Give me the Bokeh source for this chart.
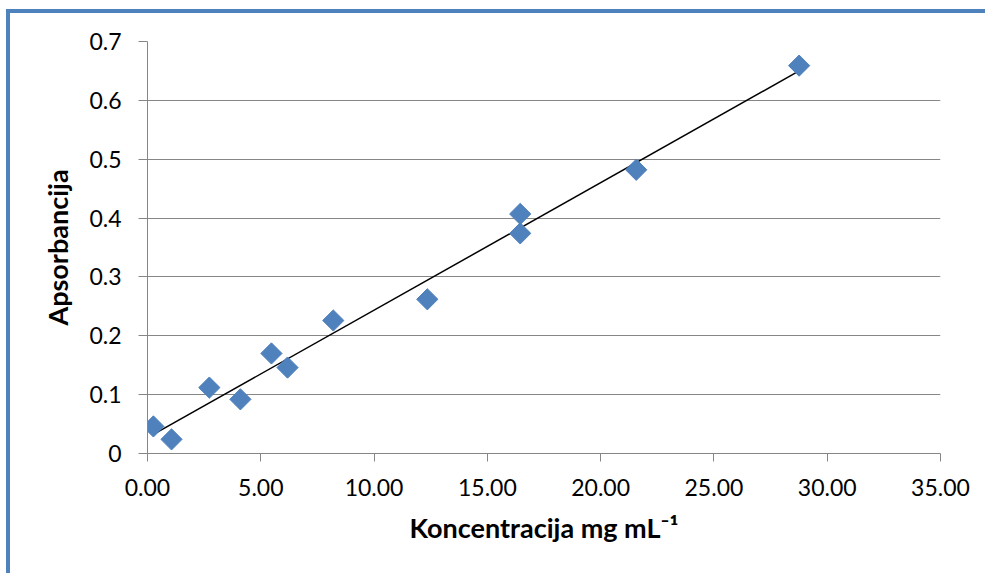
import numpy as np
from bokeh.plotting import figure
from bokeh.layouts import column, row
from bokeh.models import Range1d, FixedTicker, CustomJSTickFormatter, PrintfTickFormatter, ColumnDataSource, Div
from bokeh.embed import file_html
from bokeh.resources import INLINE

# Data
konc = [0.26, 1.06, 2.73, 4.10, 5.47, 6.18, 8.20, 12.35, 16.45, 16.45, 21.57, 28.76]
aps = [0.046, 0.024, 0.112, 0.092, 0.170, 0.146, 0.226, 0.262, 0.407, 0.374, 0.482, 0.659]
x_ticks = [0, 5, 10, 15, 20, 25, 30, 35]
y_ticks = [0, 0.1, 0.2, 0.3, 0.4, 0.5, 0.6, 0.7]
x_title = "Koncentracija mg mL\u207b\u00b9"
y_title = "Apsorbancija"

FONT = "Lato"
GRAY = "#868686"
BLUE = "#4F81BD"

p = figure(
    frame_width=793, frame_height=412,
    min_border_left=137, min_border_top=28, min_border_right=45, min_border_bottom=120,
    x_range=Range1d(0, 35), y_range=Range1d(0, 0.7),
    output_backend="svg", toolbar_location=None,
)
p.outline_line_color = None
p.background_fill_color = "white"
p.border_fill_color = "white"

# linear trendline fitted from the data
slope, intercept = np.polyfit(konc, aps, 1)
tx = [min(konc), max(konc)]
ty = [slope * v + intercept for v in tx]
p.line(tx, ty, line_color="black", line_width=1.5)

src = ColumnDataSource(dict(x=konc, y=aps))
p.scatter("x", "y", source=src, marker="square", angle=np.pi / 4, size=15,
          fill_color=BLUE, line_color=BLUE)

p.xgrid.visible = False
p.ygrid.grid_line_color = GRAY
p.ygrid.grid_line_width = 1
p.ygrid.ticker = FixedTicker(ticks=y_ticks)

for ax in (p.xaxis[0], p.yaxis[0]):
    ax.axis_line_color = GRAY
    ax.major_tick_line_color = GRAY
    ax.minor_tick_line_color = None
    ax.major_tick_in = 0
    ax.major_label_text_font = FONT
    ax.major_label_text_font_size = "23px"
    ax.major_label_text_color = "black"
    ax.axis_label_text_font = FONT
    ax.axis_label_text_font_style = "bold"
    ax.axis_label_text_font_size = "27px"
    ax.axis_label_text_color = "black"

p.xaxis.ticker = FixedTicker(ticks=x_ticks)
p.xaxis.formatter = PrintfTickFormatter(format="%.2f")
p.xaxis.major_tick_out = 8
p.xaxis.major_label_standoff = 17
p.xaxis.axis_label = x_title
p.xaxis.axis_label_standoff = 12

p.yaxis.ticker = FixedTicker(ticks=y_ticks)
p.yaxis.formatter = CustomJSTickFormatter(code="return tick == 0 ? '0' : tick.toFixed(1);")
p.yaxis.major_tick_out = 9
p.yaxis.major_label_standoff = 17
p.yaxis.axis_label = y_title
p.yaxis.axis_label_standoff = 12

# blue chart-area frame (left and top edges; the rest lies outside the picture)
top_bar = Div(text="", width=979, height=4, margin=0, styles={"background-color": BLUE})
left_bar = Div(text="", width=4, height=560, margin=0, styles={"background-color": BLUE})
layout = column(top_bar, row(left_bar, p, spacing=0), spacing=0,
                styles={"margin-left": "6px", "margin-top": "9px"})

open("out.html", "w").write(file_html(layout, INLINE))
